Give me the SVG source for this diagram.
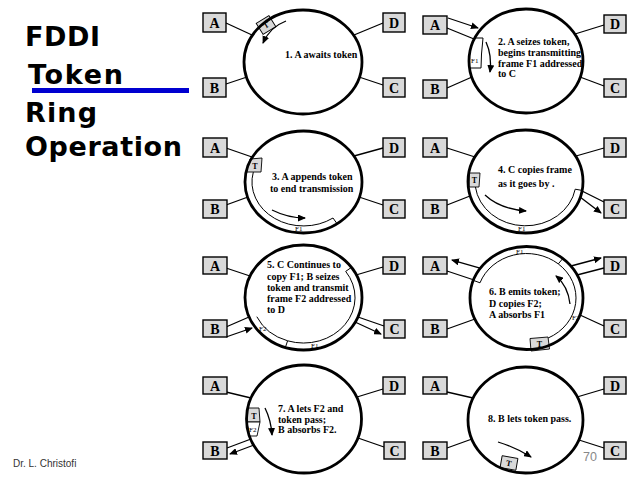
<svg xmlns="http://www.w3.org/2000/svg" width="639" height="479" viewBox="0 0 639 479">
<style>
.ringbg{fill:#fff;stroke:none}
.ring{fill:none;stroke:#000;stroke-width:2.8}
.box{fill:#d9d9d9;stroke:#000;stroke-width:1.4}
.lbl{font-family:"Liberation Serif",serif;font-weight:bold;font-size:14px;text-anchor:middle}
.cap{font-family:"Liberation Serif",serif;font-weight:bold;font-size:10px}
.ln{stroke:#000;stroke-width:1.3;fill:none}
.thin{stroke:#000;stroke-width:1;fill:none}
.arr{stroke:#000;stroke-width:1.3;fill:none;marker-end:url(#ah)}
.tok{fill:#d9d9d9;stroke:#000;stroke-width:0.9}
.frm{fill:#fff;stroke:#000;stroke-width:0.9}
.tl{font-family:"Liberation Serif",serif;font-weight:bold;font-size:8px;text-anchor:middle}
.fl{font-family:"Liberation Serif",serif;font-size:7px}
.title{font-family:"DejaVu Sans",sans-serif;font-weight:bold;font-size:27px;fill:#000}
</style>
<defs>
<marker id="ah" markerUnits="userSpaceOnUse" markerWidth="8" markerHeight="7" refX="7" refY="3.5" orient="auto">
<path d="M0,0 L8,3.5 L0,7 z" fill="#000"/>
</marker>
</defs>
<rect width="639" height="479" fill="#fff"/>
<g id="title">
<text class="title" x="25" y="46" textLength="75" lengthAdjust="spacing">FDDI</text>
<text class="title" x="28" y="84" textLength="95" lengthAdjust="spacing">Token</text>
<rect x="32" y="88" width="157" height="5" fill="#0000d0"/>
<text class="title" x="25" y="122" textLength="72" lengthAdjust="spacing">Ring</text>
<text class="title" x="25" y="156" textLength="157" lengthAdjust="spacing">Operation</text>
</g>
<g id="footer">
<text x="13" y="467" font-family="Liberation Sans, sans-serif" font-size="10" fill="#333">Dr. L. Christofi</text>
<text x="583" y="461" font-family="Liberation Sans, sans-serif" font-size="12.5" fill="#888">70</text>
</g>

<g id="connectors">
<!-- P1 -->
<line class="ln" x1="226" y1="23" x2="252" y2="35"/>
<line class="ln" x1="226" y1="84" x2="247" y2="77"/>
<line class="ln" x1="354" y1="35" x2="383" y2="23"/>
<line class="ln" x1="359" y1="77" x2="383" y2="85"/>
<!-- P2 -->
<line class="ln" x1="447" y1="28" x2="474" y2="39"/>
<path class="arr" d="M448,18 L478,28"/>
<line class="ln" x1="447" y1="88" x2="472" y2="77"/>
<line class="ln" x1="575" y1="34" x2="604" y2="25"/>
<line class="ln" x1="580" y1="77" x2="604" y2="86"/>
<!-- P3 -->
<line class="ln" x1="226" y1="148" x2="252" y2="157"/>
<line class="ln" x1="226" y1="205" x2="248" y2="197"/>
<line class="ln" x1="354" y1="156" x2="383" y2="148"/>
<line class="ln" x1="359" y1="197" x2="383" y2="205"/>
<!-- P4 -->
<line class="ln" x1="447" y1="148" x2="475" y2="157"/>
<line class="ln" x1="447" y1="205" x2="470" y2="196"/>
<line class="ln" x1="576" y1="156" x2="604" y2="148"/>
<line class="ln" x1="582" y1="191" x2="604" y2="202"/>
<path class="arr" d="M580,197 L601,213"/>
<!-- P5 -->
<line class="ln" x1="226" y1="268" x2="250" y2="276"/>
<line class="ln" x1="356" y1="275" x2="383" y2="267"/>
<line class="ln" x1="226" y1="327" x2="249" y2="317"/>
<path class="arr" d="M226,337 L252,328"/>
<line class="ln" x1="358" y1="317" x2="384" y2="326"/>
<path class="arr" d="M355,322 L381,334"/>
<!-- P6 -->
<path class="arr" d="M480,268 L452,260"/>
<line class="ln" x1="474" y1="280" x2="447" y2="271"/>
<path class="arr" d="M571,266 L601,258"/>
<line class="ln" x1="577" y1="275" x2="604" y2="268"/>
<line class="ln" x1="447" y1="329" x2="475" y2="319"/>
<line class="ln" x1="580" y1="315" x2="604" y2="326"/>
<!-- P7 -->
<line class="ln" x1="226" y1="392" x2="251" y2="398"/>
<line class="ln" x1="357" y1="397" x2="383" y2="389"/>
<line class="ln" x1="227" y1="448" x2="251" y2="439"/>
<path class="arr" d="M254,445 L230,454"/>
<line class="ln" x1="358" y1="438" x2="384" y2="447"/>
<!-- P8 -->
<line class="ln" x1="447" y1="392" x2="473" y2="398"/>
<line class="ln" x1="577" y1="397" x2="604" y2="389"/>
<line class="ln" x1="447" y1="448" x2="472" y2="439"/>
<line class="ln" x1="579" y1="440" x2="604" y2="448"/>
</g>

<!-- Panel 1 -->
<g id="ring1">
<ellipse class="ringbg" cx="303" cy="62" rx="59" ry="52"/>
<rect class="tok" x="258.5" y="18.5" width="15" height="13" transform="rotate(-32 266 25)"/>
<text class="tl" x="266" y="28" transform="rotate(-32 266 25)">T</text>
<path class="arr" d="M286,21 Q270,27 263,43"/>
<text class="cap" x="285" y="58" font-size="8.5">1. A awaits token</text>
<ellipse class="ring" cx="303" cy="62" rx="59" ry="52"/>
</g>
<g id="p1-A"><rect class="box" x="203" y="13" width="23" height="19"/><text class="lbl" x="214.5" y="27.5">A</text></g>
<g id="p1-D"><rect class="box" x="383" y="13" width="22" height="19"/><text class="lbl" x="394" y="27.5">D</text></g>
<g id="p1-B"><rect class="box" x="203" y="78" width="23" height="19"/><text class="lbl" x="214.5" y="92.5">B</text></g>
<g id="p1-C"><rect class="box" x="383" y="78" width="22" height="19"/><text class="lbl" x="394" y="92.5">C</text></g>

<!-- Panel 2 -->
<g id="ring2">
<ellipse class="ringbg" cx="526" cy="61" rx="57" ry="52"/>
<path class="thin" d="M475,38 L483,38 Q481,55 481,68 L470,68"/>
<text class="fl" x="471" y="63" font-size="6">F1</text>
<path class="arr" d="M486,42 Q492,55 490,72"/>
<text class="cap" x="498" y="45">2. A seizes token,</text>
<text class="cap" x="498" y="56">begins transmitting</text>
<text class="cap" x="498" y="67">frame F1 addressed</text>
<text class="cap" x="498" y="77">to C</text>
<ellipse class="ring" cx="526" cy="61" rx="57" ry="52"/>
</g>
<g id="p2-A"><rect class="box" x="423" y="16" width="24" height="18"/><text class="lbl" x="435" y="30">A</text></g>
<g id="p2-D"><rect class="box" x="604" y="15" width="22" height="18"/><text class="lbl" x="615" y="29">D</text></g>
<g id="p2-B"><rect class="box" x="423" y="80" width="24" height="18"/><text class="lbl" x="435" y="94">B</text></g>
<g id="p2-C"><rect class="box" x="604" y="79" width="22" height="18"/><text class="lbl" x="615" y="93">C</text></g>

<!-- Panel 3 -->
<g id="ring3">
<ellipse class="ringbg" cx="303.5" cy="182" rx="58.5" ry="51"/>
<path class="thin" d="M253.3,172.1 A51.5,44 0 0 0 333,218 L337.1,223.8"/>
<polygon class="tok" points="250,159 262,158 261,172 246.5,172"/>
<text class="tl" x="255" y="169">T</text>
<text class="fl" x="295" y="231">F1</text>
<path class="arr" d="M272,210 Q288,218 305,218"/>
<text class="cap" x="272" y="180">3. A appends token</text>
<text class="cap" x="270" y="192">to end transmission</text>
<ellipse class="ring" cx="303.5" cy="182" rx="58.5" ry="51"/>
</g>
<g id="p3-A"><rect class="box" x="203" y="138" width="24" height="19"/><text class="lbl" x="215" y="152.5">A</text></g>
<g id="p3-D"><rect class="box" x="383" y="138" width="22" height="19"/><text class="lbl" x="394" y="152.5">D</text></g>
<g id="p3-B"><rect class="box" x="203" y="200" width="24" height="18"/><text class="lbl" x="215" y="214">B</text></g>
<g id="p3-C"><rect class="box" x="383" y="200" width="22" height="18"/><text class="lbl" x="394" y="214">C</text></g>

<!-- Panel 4 -->
<g id="ring4">
<ellipse class="ringbg" cx="525.5" cy="181.5" rx="57.5" ry="51.5"/>
<path class="thin" d="M475.4,186.9 A50.5,44.5 0 0 0 575.2,189.2 L582,190.4"/>
<polygon class="tok" points="469.5,173 480,173 479,187 469,187"/>
<text class="tl" x="474.5" y="183">T</text>
<text class="fl" x="518" y="231">F1</text>
<path class="arr" d="M485,195 Q500,209 526,211"/>
<text class="cap" x="498" y="173">4. C copies frame</text>
<text class="cap" x="498" y="187">as it goes by .</text>
<ellipse class="ring" cx="525.5" cy="181.5" rx="57.5" ry="51.5"/>
</g>
<g id="p4-A"><rect class="box" x="423" y="138" width="24" height="19"/><text class="lbl" x="435" y="152.5">A</text></g>
<g id="p4-D"><rect class="box" x="604" y="138" width="22" height="19"/><text class="lbl" x="615" y="152.5">D</text></g>
<g id="p4-B"><rect class="box" x="423" y="200" width="24" height="18"/><text class="lbl" x="435" y="214">B</text></g>
<g id="p4-C"><rect class="box" x="604" y="200" width="22" height="18"/><text class="lbl" x="615" y="214">C</text></g>

<!-- Panel 5 -->
<g id="ring5">
<ellipse class="ringbg" cx="303.5" cy="297.5" rx="58.5" ry="52.5"/>
<path class="thin" d="M256.8,316.7 A51.5,45.5 0 0 0 287.6,340.8 A51.5,45.5 0 0 0 345.7,271.4 L351.4,267.4 M287.6,340.8 L285.4,347.4"/>
<text class="fl" x="259" y="331">F2</text>
<text class="fl" x="311" y="348">F1</text>
<text class="cap" x="267" y="268" font-size="10.5">5. C Continues to</text>
<text class="cap" x="267" y="280" font-size="10.5">copy F1; B seizes</text>
<text class="cap" x="267" y="291" font-size="10.5">token and transmit</text>
<text class="cap" x="267" y="302" font-size="10.5">frame F2 addressed</text>
<text class="cap" x="267" y="313" font-size="10.5">to D</text>
<ellipse class="ring" cx="303.5" cy="297.5" rx="58.5" ry="52.5"/>
</g>
<g id="p5-A"><rect class="box" x="203" y="257" width="24" height="17"/><text class="lbl" x="215" y="270.5">A</text></g>
<g id="p5-D"><rect class="box" x="383" y="257" width="22" height="17"/><text class="lbl" x="394" y="270.5">D</text></g>
<g id="p5-B"><rect class="box" x="203" y="320" width="24" height="17"/><text class="lbl" x="215" y="333.5">B</text></g>
<g id="p5-C"><rect class="box" x="384" y="320" width="21" height="18"/><text class="lbl" x="394.5" y="334">C</text></g>

<!-- Panel 6 -->
<g id="ring6">
<ellipse class="ringbg" cx="526.5" cy="298" rx="56.5" ry="51.5"/>
<path class="thin" d="M473.4,280.4 L480,282.8 A49.5,44.5 0 0 1 558.3,263.9 L562.8,258.5 M558.3,263.9 A49.5,44.5 0 0 1 548.2,338"/>
<polygon class="tok" points="530,338.5 548,337 549.5,349 531,351"/>
<text class="tl" x="539.5" y="347">T</text>
<text class="fl" x="516" y="254">F1</text>
<text class="fl" x="572" y="320" font-size="6">F2</text>
<path class="arr" d="M570,304 Q568,286 556,276"/>
<text class="cap" x="489" y="295" font-size="10.5">6. B emits token;</text>
<text class="cap" x="489" y="307" font-size="10.5">D copies F2;</text>
<text class="cap" x="489" y="318" font-size="10.5">A absorbs F1</text>
<ellipse class="ring" cx="526.5" cy="298" rx="56.5" ry="51.5"/>
</g>
<g id="p6-A"><rect class="box" x="423" y="257" width="24" height="17"/><text class="lbl" x="435" y="270.5">A</text></g>
<g id="p6-D"><rect class="box" x="604" y="257" width="22" height="17"/><text class="lbl" x="615" y="270.5">D</text></g>
<g id="p6-B"><rect class="box" x="423" y="320" width="24" height="17"/><text class="lbl" x="435" y="333.5">B</text></g>
<g id="p6-C"><rect class="box" x="604" y="320" width="22" height="17"/><text class="lbl" x="615" y="333.5">C</text></g>

<!-- Panel 7 -->
<g id="ring7">
<ellipse class="ringbg" cx="304" cy="419" rx="57.5" ry="54"/>
<polygon class="tok" points="248,408 259,408 260,422 247,422"/>
<text class="tl" x="254" y="419">T</text>
<polygon class="frm" points="247,422 260,422 257,436 249.5,436"/>
<text class="fl" x="249" y="432">F2</text>
<path class="arr" d="M265,408 Q271,420 272,435"/>
<text class="cap" x="278" y="412">7. A lets F2 and</text>
<text class="cap" x="278" y="423">token pass;</text>
<text class="cap" x="278" y="433">B absorbs F2.</text>
<ellipse class="ring" cx="304" cy="419" rx="57.5" ry="54"/>
</g>
<g id="p7-A"><rect class="box" x="203" y="377" width="24" height="17"/><text class="lbl" x="215" y="390.5">A</text></g>
<g id="p7-D"><rect class="box" x="383" y="377" width="22" height="17"/><text class="lbl" x="394" y="390.5">D</text></g>
<g id="p7-B"><rect class="box" x="203" y="442" width="24" height="17"/><text class="lbl" x="215" y="455.5">B</text></g>
<g id="p7-C"><rect class="box" x="384" y="442" width="21" height="17"/><text class="lbl" x="394.5" y="455.5">C</text></g>

<!-- Panel 8 -->
<g id="ring8">
<ellipse class="ringbg" cx="525.5" cy="420" rx="57.5" ry="53"/>
<rect class="tok" x="501" y="457" width="16" height="12" transform="rotate(10 509 463)"/>
<text class="tl" x="509" y="466" transform="rotate(10 509 463)">T</text>
<path class="arr" d="M498,442 Q515,447 531,457"/>
<text class="cap" x="488" y="422" font-size="9.5">8. B lets token pass.</text>
<ellipse class="ring" cx="525.5" cy="420" rx="57.5" ry="53"/>
</g>
<g id="p8-A"><rect class="box" x="423" y="377" width="24" height="17"/><text class="lbl" x="435" y="390.5">A</text></g>
<g id="p8-D"><rect class="box" x="604" y="377" width="22" height="17"/><text class="lbl" x="615" y="390.5">D</text></g>
<g id="p8-B"><rect class="box" x="423" y="442" width="24" height="17"/><text class="lbl" x="435" y="455.5">B</text></g>
<g id="p8-C"><rect class="box" x="604" y="442" width="22" height="17"/><text class="lbl" x="615" y="455.5">C</text></g>
</svg>
